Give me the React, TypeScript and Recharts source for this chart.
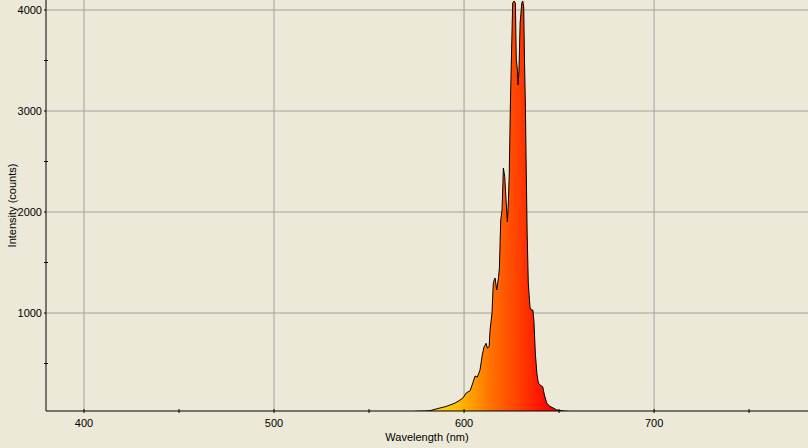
import React from 'react';
import { AreaChart, Area, XAxis, YAxis, CartesianGrid } from 'recharts';

// spectrum (nm, counts)
const WAVELENGTHS = [
  574.2, 579.5, 582.1, 586.3, 590.0, 592.6, 595.3, 597.9, 599.5, 601.1,
  603.2, 604.6, 605.8, 607.0, 608.4, 609.6, 610.5, 611.6, 612.3, 613.2,
  613.7, 614.7, 615.4, 616.3, 617.2, 618.1, 618.6, 619.3, 620.0, 620.7,
  621.4, 622.1, 622.8, 623.3, 623.8, 624.4, 624.9, 625.6, 626.3, 627.0,
  627.5, 628.1, 628.4, 628.9, 629.5, 630.4, 630.9, 631.4, 631.8, 632.3,
  632.6, 633.2, 633.8, 634.7, 635.3, 636.2, 636.8, 637.5, 638.3, 639.1,
  640.0, 641.4, 642.3, 643.5, 644.9, 647.0, 648.8, 652.3, 655.8,
];
const COUNTS = [
  27, 30, 33, 55, 72, 89, 109, 139, 161, 208,
  231, 307, 376, 366, 436, 584, 663, 700, 653, 666,
  832, 1000, 1300, 1347, 1228, 1347, 1446, 1921, 2020, 2436,
  2350, 2119, 1904, 2089, 2386, 3079, 3505, 4069, 4089, 4069,
  3505, 3406, 3257, 3406, 3871, 4069, 4089, 4030, 3505, 3040,
  2584, 1792, 1297, 1059, 1030, 1030, 914, 604, 406, 307,
  287, 270, 188, 109, 79, 59, 40, 30, 25,
];

const X_TICKS = [400, 450, 500, 550, 600, 650, 700, 750];
const X_LABELS = [400, 500, 600, 700];
const Y_TICKS = [500, 1000, 1500, 2000, 2500, 3000, 3500, 4000];
const Y_LABELS = [1000, 2000, 3000, 4000];

const X_DOMAIN = [380, 781];
const Y_DOMAIN = [30, 4099];

const W = 808;
const H = 448;
const LEFT = 46;
const BOTTOM = 37;
const FONT = '"Liberation Sans", Arial, sans-serif';

const data = WAVELENGTHS.map((wl, i) => ({ wl, counts: COUNTS[i] }));

// pixel of a wavelength, used only to place the colour stops of the fill
const px = (wl: number) => LEFT + ((wl - X_DOMAIN[0]) / (X_DOMAIN[1] - X_DOMAIN[0])) * (W - LEFT);

const XTick = (props: any) => {
  const { x, y, payload } = props;
  return (
    <g>
      <line x1={x} x2={x} y1={y - 2} y2={y + 2} stroke="#000" />
      {X_LABELS.includes(payload.value) && (
        <text x={x} y={y + 16} textAnchor="middle" fontSize={11} fontFamily={FONT} fill="#000">
          {payload.value}
        </text>
      )}
    </g>
  );
};

const YTick = (props: any) => {
  const { x, y, payload } = props;
  const major = Y_LABELS.includes(payload.value);
  return (
    <g>
      <line x1={x - 2} x2={major ? x : x + 2} y1={y} y2={y} stroke="#000" />
      {major && (
        <text x={x - 4} y={y + 4} textAnchor="end" fontSize={11} fontFamily={FONT} fill="#000">
          {payload.value}
        </text>
      )}
    </g>
  );
};

export default function App() {
  return (
    <div style={{ position: 'fixed', left: 0, top: 0, width: W, height: H, background: '#ECE9D8' }}>
      <AreaChart width={W} height={H} data={data} margin={{ top: 0, right: 0, bottom: 0, left: 0 }}>
        <defs>
          <linearGradient id="spectrum" gradientUnits="userSpaceOnUse" x1={px(576)} x2={px(646)} y1={0} y2={0}>
            <stop offset="0%" stopColor="#FFE400" />
            <stop offset="30%" stopColor="#FFBC00" />
            <stop offset="55%" stopColor="#FF7000" />
            <stop offset="75%" stopColor="#FF4000" />
            <stop offset="100%" stopColor="#FF0000" />
          </linearGradient>
        </defs>
        <CartesianGrid
          stroke="#A0A0A0"
          horizontalValues={Y_LABELS}
          verticalValues={X_LABELS}
        />
        <XAxis
          dataKey="wl"
          type="number"
          domain={X_DOMAIN}
          ticks={X_TICKS}
          tick={<XTick />}
          tickLine={false}
          tickSize={0}
          tickMargin={0}
          height={BOTTOM}
          stroke="#000"
          allowDataOverflow
          label={{
            content: (p: any) => (
              <text
                x={p.viewBox.x + p.viewBox.width / 2}
                y={p.viewBox.y + 30}
                textAnchor="middle"
                fontSize={11}
                fontFamily={FONT}
                fill="#000"
              >
                Wavelength (nm)
              </text>
            ),
          }}
        />
        <YAxis
          type="number"
          domain={Y_DOMAIN}
          ticks={Y_TICKS}
          tick={<YTick />}
          tickLine={false}
          tickSize={0}
          tickMargin={0}
          width={LEFT}
          stroke="#000"
          allowDataOverflow
          label={{
            content: (p: any) => {
              const cx = p.viewBox.x + 12;
              const cy = p.viewBox.y + p.viewBox.height / 2;
              return (
                <text
                  x={cx}
                  y={cy}
                  transform={`rotate(-90, ${cx}, ${cy})`}
                  textAnchor="middle"
                  dominantBaseline="central"
                  fontSize={11}
                  fontFamily={FONT}
                  fill="#000"
                >
                  Intensity (counts)
                </text>
              );
            },
          }}
        />
        <Area
          type="linear"
          dataKey="counts"
          stroke="#000"
          strokeWidth={1}
          fill="url(#spectrum)"
          fillOpacity={1}
          isAnimationActive={false}
          dot={false}
          activeDot={false}
        />
      </AreaChart>
    </div>
  );
}
